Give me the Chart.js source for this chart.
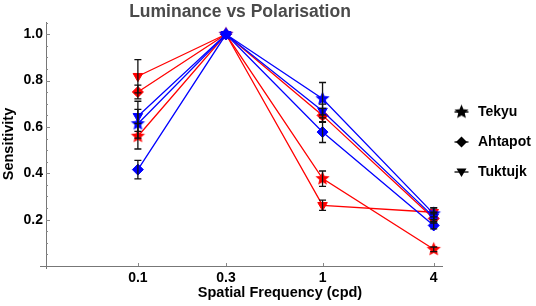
<!DOCTYPE html>
<html>
<head>
<meta charset="utf-8">
<script src="https://cdn.jsdelivr.net/npm/chart.js@4.4.1/dist/chart.umd.min.js"></script>
<style>
  html, body { margin: 0; padding: 0; background: #fff; }
  #wrap { width: 536px; height: 306px; }
</style>
</head>
<body>
<div id="wrap"><canvas id="chart" width="536" height="306"></canvas></div>
<script>
// === data ===
const xValues = [0.1, 0.3, 1, 4];
const xTickLabels = ["0.1", "0.3", "1", "4"];
const yMajorTicks = [0.2, 0.4, 0.6, 0.8, 1.0];
const yMinorStep = 0.05;

const legendNames = ["Tekyu", "Ahtapot", "Tuktujk"];

// blue = luminance, red = polarisation
const blueTekyu = [0.614, 1.0, 0.722, 0.225];
const blueAhtapot = [0.416, 1.0, 0.578, 0.175];
const blueTuktujk = [0.646, 1.0, 0.669, 0.212];
const redTekyu = [0.560, 1.0, 0.377, 0.072];
const redAhtapot = [0.751, 1.0, 0.650, 0.205];
const redTuktujk = [0.819, 1.0, 0.262, 0.232];

const blueTekyuErr = [0.062, 0, 0.070, 0.025];
const blueAhtapotErr = [0.040, 0, 0.045, 0.015];
const blueTuktujkErr = [0.065, 0, 0.030, 0.020];
const redTekyuErr = [0.055, 0, 0.033, 0.010];
const redAhtapotErr = [0.030, 0, 0.030, 0.020];
const redTuktujkErr = [0.072, 0, 0.022, 0.020];

const RED = "#ff0000";
const BLUE = "#0000ff";
const FONT = "'Liberation Sans', Arial, sans-serif";

// filled 5-point star as a point image
function makeStar(color, r) {
  const c = document.createElement("canvas");
  const s = Math.ceil(r * 2 + 2);
  c.width = s; c.height = s;
  const g = c.getContext("2d");
  g.fillStyle = color;
  g.beginPath();
  for (let k = 0; k < 10; k++) {
    const rad = k % 2 === 0 ? r : r * 0.45;
    const a = -Math.PI / 2 + k * Math.PI / 5;
    const px = s / 2 + Math.cos(a) * rad, py = s / 2 + Math.sin(a) * rad;
    k === 0 ? g.moveTo(px, py) : g.lineTo(px, py);
  }
  g.closePath();
  g.fill();
  return c;
}

function series(label, values, errs, color, shape) {
  const ds = {
    label: label,
    data: values.map((v, i) => ({ x: xValues[i], y: v })),
    errors: errs,
    borderColor: color,
    backgroundColor: color,
    borderWidth: 1.3,
    pointBackgroundColor: color,
    pointBorderColor: color,
    pointBorderWidth: 1,
    tension: 0
  };
  if (shape === "star") {
    ds.pointStyle = makeStar(color, 7.5);
  } else if (shape === "diamond") {
    ds.pointStyle = "rectRot";
    ds.pointRadius = 5.5;
  } else {
    ds.pointStyle = "triangle";
    ds.pointRotation = 180;
    ds.pointRadius = 5.5;
  }
  return ds;
}

const datasets = [
  series("Tekyu", blueTekyu, blueTekyuErr, BLUE, "star"),
  series("Tuktujk", blueTuktujk, blueTuktujkErr, BLUE, "tri"),
  series("Ahtapot", blueAhtapot, blueAhtapotErr, BLUE, "diamond"),
  series("Tekyu", redTekyu, redTekyuErr, RED, "star"),
  series("Ahtapot", redAhtapot, redAhtapotErr, RED, "diamond"),
  series("Tuktujk", redTuktujk, redTuktujkErr, RED, "tri")
];

// === error bars ===
const errorBars = {
  id: "errorBars",
  afterDatasetsDraw(chart) {
    const { ctx, scales: { x, y } } = chart;
    ctx.save();
    ctx.strokeStyle = "#111";
    ctx.lineWidth = 1.3;
    chart.data.datasets.forEach(ds => {
      ds.data.forEach((p, j) => {
        const e = ds.errors[j];
        if (!e) return;
        const px = x.getPixelForValue(p.x);
        const y1 = y.getPixelForValue(p.y + e);
        const y2 = y.getPixelForValue(p.y - e);
        ctx.beginPath();
        ctx.moveTo(px, y1); ctx.lineTo(px, y2);
        ctx.moveTo(px - 3.5, y1); ctx.lineTo(px + 3.5, y1);
        ctx.moveTo(px - 3.5, y2); ctx.lineTo(px + 3.5, y2);
        ctx.stroke();
      });
    });
    ctx.restore();
  }
};

// === inward ticks, titles, legend ===
const decorations = {
  id: "decorations",
  beforeDatasetsDraw(chart) {
    const { ctx, chartArea: a, scales: { x, y } } = chart;
    ctx.save();
    ctx.strokeStyle = "#888";
    ctx.lineWidth = 1;
    ctx.beginPath();
    for (let v = yMinorStep; v <= y.max + 1e-9; v += yMinorStep) {
      const major = yMajorTicks.some(t => Math.abs(t - v) < 1e-6);
      const py = Math.round(y.getPixelForValue(v)) + 0.5;
      ctx.moveTo(a.left, py); ctx.lineTo(a.left + (major ? 4 : 2), py);
    }
    xValues.forEach(v => {
      const px = Math.round(x.getPixelForValue(v)) + 0.5;
      ctx.moveTo(px, a.bottom); ctx.lineTo(px, a.bottom - 3);
    });
    ctx.stroke();
    // axis overhang like the original
    ctx.strokeStyle = "#777";
    ctx.beginPath();
    ctx.moveTo(a.left - 6, a.bottom + 0.5); ctx.lineTo(a.left, a.bottom + 0.5);
    ctx.moveTo(a.left + 0.5, a.bottom); ctx.lineTo(a.left + 0.5, a.bottom + 3);
    ctx.stroke();
    ctx.restore();
  },
  afterDraw(chart) {
    const { ctx } = chart;
    ctx.save();
    // main title
    ctx.fillStyle = "#4a4a4a";
    ctx.font = "bold 17.5px " + FONT;
    ctx.textAlign = "center";
    ctx.textBaseline = "middle";
    ctx.fillText("Luminance vs Polarisation", 240, 12);
    // x title
    ctx.fillStyle = "#000";
    ctx.font = "bold 14.5px " + FONT;
    ctx.fillText("Spatial Frequency (cpd)", 280, 293);
    // legend
    ctx.textAlign = "left";
    ctx.font = "bold 14px " + FONT;
    const shapes = ["star", "diamond", "tri"];
    legendNames.forEach((name, i) => {
      const cy = 112 + i * 30;
      const cx = 461.5;
      ctx.strokeStyle = "#000";
      ctx.lineWidth = 1.3;
      ctx.beginPath();
      ctx.moveTo(cx - 7, cy); ctx.lineTo(cx + 7, cy);
      ctx.stroke();
      ctx.fillStyle = "#000";
      if (shapes[i] === "star") {
        const img = makeStar("#000", 7.5);
        ctx.drawImage(img, cx - img.width / 2, cy - img.height / 2);
      } else if (shapes[i] === "diamond") {
        ctx.beginPath();
        ctx.moveTo(cx, cy - 5.5); ctx.lineTo(cx + 5.5, cy);
        ctx.lineTo(cx, cy + 5.5); ctx.lineTo(cx - 5.5, cy);
        ctx.closePath(); ctx.fill();
      } else {
        ctx.beginPath();
        ctx.moveTo(cx - 5, cy - 3.5); ctx.lineTo(cx + 5, cy - 3.5);
        ctx.lineTo(cx, cy + 5);
        ctx.closePath(); ctx.fill();
      }
      ctx.fillText(name, 478, cy);
    });
    ctx.restore();
  }
};

new Chart(document.getElementById("chart").getContext("2d"), {
  type: "line",
  data: { datasets: datasets },
  plugins: [decorations, errorBars],
  options: {
    responsive: false,
    animation: false,
    layout: { padding: { top: 22, right: 94, left: 0, bottom: 0 } },
    plugins: {
      legend: { display: false },
      title: { display: false },
      tooltip: { enabled: false }
    },
    scales: {
      x: {
        type: "logarithmic",
        min: 0.0318,
        max: 4.435,
        afterFit: s => { s.height = 40; },
        afterBuildTicks: s => { s.ticks = xValues.map(v => ({ value: v })); },
        ticks: {
          autoSkip: false,
          maxRotation: 0,
          padding: 4,
          color: "#000",
          font: { family: FONT, size: 14, weight: "bold" },
          callback: v => {
            const i = xValues.findIndex(t => Math.abs(t - v) < 1e-9);
            return i >= 0 ? xTickLabels[i] : "";
          }
        },
        grid: { display: false, drawTicks: false },
        border: { display: true, color: "#777", width: 1 }
      },
      y: {
        min: 0,
        max: 1.053,
        afterFit: s => { s.width = 46; },
        afterBuildTicks: s => { s.ticks = yMajorTicks.map(v => ({ value: v })); },
        ticks: {
          padding: 3,
          color: "#000",
          font: { family: FONT, size: 14, weight: "bold" },
          callback: v => v.toFixed(1)
        },
        title: {
          display: true,
          text: "Sensitivity",
          color: "#000",
          padding: 0,
          font: { family: FONT, size: 14.5, weight: "bold" }
        },
        grid: { display: false, drawTicks: false },
        border: { display: true, color: "#777", width: 1 }
      }
    }
  }
});
</script>
</body>
</html>
